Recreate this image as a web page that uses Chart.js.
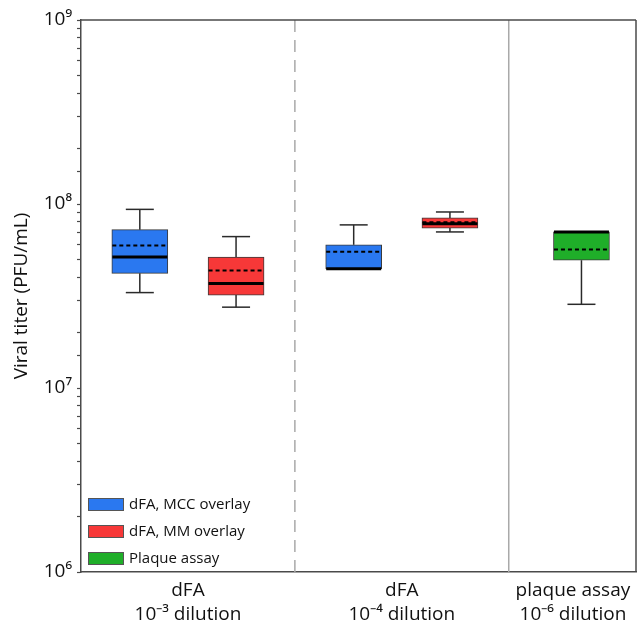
<!DOCTYPE html>
<html>
<head>
<meta charset="utf-8">
<script src="https://cdn.jsdelivr.net/npm/chart.js@4.4.0/dist/chart.umd.min.js"></script>
<style>
  body { margin: 0; background: #fff; }
  #wrap { width: 637px; height: 624px; }
</style>
</head>
<body>
<div id="wrap"><canvas id="chart" width="637" height="624"></canvas></div>
<script>
// group labels on the x axis
const groupLabels = [
    ['dFA', '10\u207B\u00B3 dilution'],
    ['dFA', '10\u207B\u2074 dilution'],
    ['plaque assay', '10\u207B\u2076 dilution']
];
const seriesNames = ['dFA, MCC overlay', 'dFA, MM overlay', 'Plaque assay'];
const seriesColors = ['#2a78f0', '#f73838', '#1fae29'];

// each box: [min, q1, median, q3, max, mean]  (PFU/mL)
const mccBoxes = [[3.3e7, 4.2e7, 5.15e7, 7.25e7, 9.35e7, 5.95e7], [4.45e7, 4.45e7, 4.45e7, 6.0e7, 7.7e7, 5.5e7]];
const mmBoxes = [[2.75e7, 3.2e7, 3.7e7, 5.15e7, 6.65e7, 4.35e7], [7.05e7, 7.4e7, 7.8e7, 8.4e7, 9.05e7, 7.95e7]];
const plaqueBoxes = [[2.85e7, 4.95e7, 7.05e7, 7.05e7, 7.05e7, 5.65e7]];
// which group each box belongs to
const mccGroups = [0, 1];
const mmGroups = [0, 1];
const plaqueGroups = [2];

const yTickExponents = [6, 7, 8, 9];

const allBoxes = [mccBoxes, mmBoxes, plaqueBoxes];
const allGroups = [mccGroups, mmGroups, plaqueGroups];

// layout on the x axis: every group is 2 units wide, last one is cut short
const seriesOffset = [0.55, 1.45, 0.68];
const groupCenters = [1, 3, 4.6];
const separators = [2, 4];

const sup = { '6': '\u2076', '7': '\u2077', '8': '\u2078', '9': '\u2079' };

Chart.defaults.font.family = "'Open Sans', sans-serif";
Chart.defaults.color = '#111';

let datasets = allBoxes.map((boxes, s) => {
    return {
        label: seriesNames[s],
        data: boxes.map((b, j) => ({ x: allGroups[s][j] * 2 + seriesOffset[s], y: [b[1], b[3]] })),
        backgroundColor: seriesColors[s],
        borderColor: '#3a3a3a',
        borderWidth: 1,
        borderSkipped: false,
        barThickness: 56,
        grouped: false
    }
});

function hline(ctx, x1, x2, y) {
    ctx.beginPath();
    ctx.moveTo(x1, y);
    ctx.lineTo(x2, y);
    ctx.stroke();
}

function vline(ctx, x, y1, y2) {
    ctx.beginPath();
    ctx.moveTo(x, y1);
    ctx.lineTo(x, y2);
    ctx.stroke();
}

const boxExtras = {
    id: 'boxExtras',
    beforeDatasetsDraw(chart) {
        const { ctx, chartArea: a, scales: { x } } = chart;
        ctx.save();
        ctx.strokeStyle = '#a9a9a9';
        ctx.lineWidth = 1.5;
        ctx.setLineDash([12, 8]);
        vline(ctx, x.getPixelForValue(separators[0]), a.top, a.bottom);
        ctx.setLineDash([]);
        vline(ctx, x.getPixelForValue(separators[1]), a.top, a.bottom);
        // frame on top and right
        ctx.strokeStyle = '#4a4a4a';
        hline(ctx, a.left, a.right, a.top);
        vline(ctx, a.right, a.top, a.bottom);
        ctx.restore();

        // whiskers go behind the boxes
        const y = chart.scales.y;
        ctx.save();
        ctx.strokeStyle = '#2a2a2a';
        ctx.lineWidth = 1.5;
        allBoxes.forEach((boxes, s) => {
            const meta = chart.getDatasetMeta(s);
            boxes.forEach((b, j) => {
                const bar = meta.data[j];
                const cap = bar.width / 4;
                if (b[0] < b[1]) {
                    vline(ctx, bar.x, y.getPixelForValue(b[0]), y.getPixelForValue(b[1]));
                    hline(ctx, bar.x - cap, bar.x + cap, y.getPixelForValue(b[0]));
                }
                if (b[4] > b[3]) {
                    vline(ctx, bar.x, y.getPixelForValue(b[4]), y.getPixelForValue(b[3]));
                    hline(ctx, bar.x - cap, bar.x + cap, y.getPixelForValue(b[4]));
                }
            })
        })
        ctx.restore();
    },
    afterDatasetsDraw(chart) {
        const { ctx, chartArea: a } = chart;
        const y = chart.scales.y;
        ctx.save();
        allBoxes.forEach((boxes, s) => {
            const meta = chart.getDatasetMeta(s);
            boxes.forEach((b, j) => {
                const bar = meta.data[j];
                const x1 = bar.x - bar.width / 2 + 0.5, x2 = bar.x + bar.width / 2 - 0.5;
                // median
                ctx.strokeStyle = '#000';
                ctx.lineWidth = 3;
                ctx.setLineDash([]);
                hline(ctx, x1, x2, y.getPixelForValue(b[2]));
                // mean
                ctx.lineWidth = 2;
                ctx.setLineDash([4, 3]);
                hline(ctx, x1, x2, y.getPixelForValue(b[5]));
            })
        })
        ctx.restore();

        // legend in the lower left corner of the plot
        ctx.save();
        ctx.font = "15px 'Open Sans', sans-serif";
        ctx.textBaseline = 'middle';
        ctx.textAlign = 'left';
        seriesNames.forEach((name, s) => {
            const top = a.bottom - 74 + s * 27;
            ctx.fillStyle = seriesColors[s];
            ctx.fillRect(a.left + 7, top, 36, 13);
            ctx.strokeStyle = '#555';
            ctx.lineWidth = 1;
            ctx.strokeRect(a.left + 7.5, top + 0.5, 35, 12);
            ctx.fillStyle = '#111';
            ctx.fillText(name, a.left + 48, top + 7);
        })
        ctx.restore();
    }
};

new Chart(document.getElementById('chart'), {
    type: 'bar',
    data: { datasets: datasets },
    plugins: [boxExtras],
    options: {
        responsive: false,
        animation: false,
        layout: { padding: { top: 20, right: 1, left: 0, bottom: 0 } },
        plugins: {
            legend: { display: false },
            tooltip: { enabled: false }
        },
        scales: {
            x: {
                type: 'linear',
                min: 0,
                max: 5.19,
                offset: false,
                afterBuildTicks: (scale) => {
                    scale.ticks = groupCenters.map(v => ({ value: v }));
                },
                afterFit: (scale) => { scale.height = 52; },
                grid: { display: false, drawTicks: false, offset: false },
                border: { color: '#4a4a4a', width: 1.5 },
                ticks: {
                    autoSkip: false,
                    maxRotation: 0,
                    padding: 6,
                    font: { size: 19, lineHeight: 1.3 },
                    callback: (v, i) => groupLabels[i]
                }
            },
            y: {
                type: 'logarithmic',
                min: 1e6,
                max: 1e9,
                afterFit: (scale) => { scale.width = 81; },
                grid: { drawOnChartArea: false, drawTicks: true, tickLength: 4, tickColor: '#4a4a4a', tickWidth: 1.2 },
                border: { color: '#4a4a4a', width: 1.5 },
                title: {
                    display: true,
                    text: 'Viral titer (PFU/mL)',
                    font: { size: 19 },
                    padding: { top: 10, bottom: 4 }
                },
                ticks: {
                    autoSkip: false,
                    padding: 5,
                    font: { size: 19 },
                    callback: (v) => {
                        const e = Math.round(Math.log10(v));
                        if (Math.abs(Math.log10(v) - e) < 1e-9 && yTickExponents.includes(e)) {
                            return '10' + sup[e];
                        }
                        return '';
                    }
                }
            }
        }
    }
});
</script>
</body>
</html>
